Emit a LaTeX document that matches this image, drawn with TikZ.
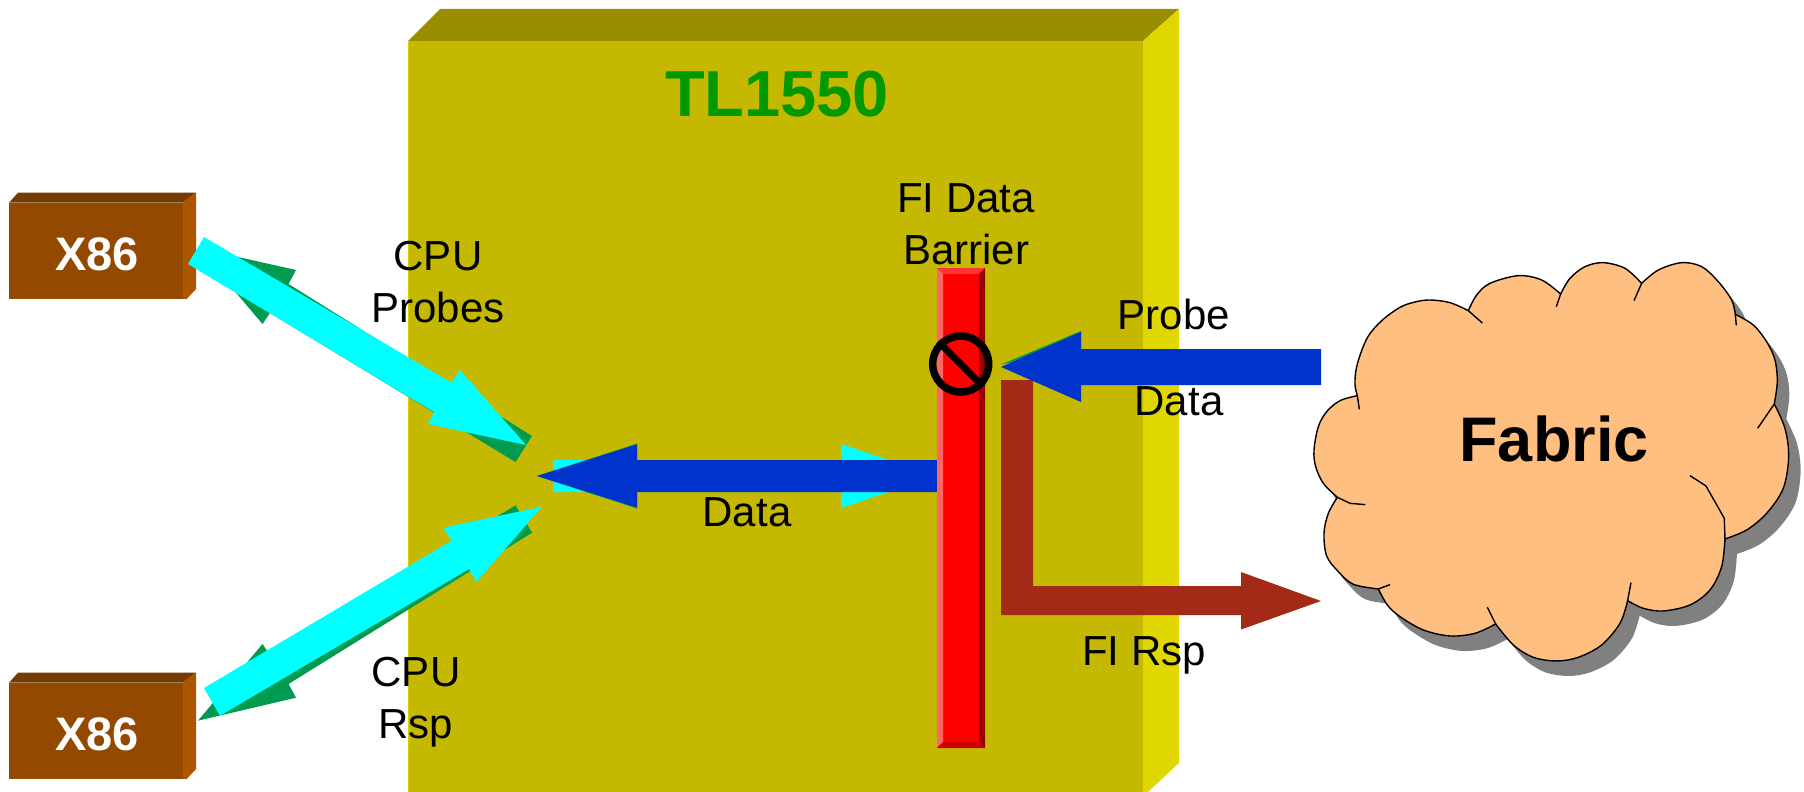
\documentclass[tikz,border=0pt]{standalone}
\usepackage{fontspec}
\setmainfont{Liberation Sans}
\definecolor{olivefront}{HTML}{C4B800}
\definecolor{olivetop}{HTML}{998E00}
\definecolor{oliveside}{HTML}{E0D600}
\definecolor{cpufront}{HTML}{934A00}
\definecolor{cputop}{HTML}{733C00}
\definecolor{cpuside}{HTML}{AD5600}
\definecolor{barleft}{HTML}{FF6666}
\definecolor{bartop}{HTML}{FF3333}
\definecolor{barright}{HTML}{990000}
\definecolor{barbottom}{HTML}{CC0000}
\definecolor{cyanarrow}{HTML}{00FFFF}
\definecolor{greenarrow}{HTML}{009B4E}
\definecolor{bluearrow}{HTML}{0033CC}
\definecolor{brownarrow}{HTML}{A22A16}
\definecolor{cloudfill}{HTML}{FFBF80}
\definecolor{cloudshadow}{HTML}{808080}
\definecolor{titlegreen}{HTML}{009900}
\newcommand{\cloudoutline}{
 plot[smooth,tension=.55] coordinates {(172,437) (165,405) (168,360) (182,310) (205,258) (245,212) (300,172) (345,156) (390,150) (450,158) (505,182)}
 -- plot[smooth,tension=.55] coordinates {(505,182) (530,135) (570,100) (655,77) (725,90) (782,132)}
 -- plot[smooth,tension=.55] coordinates {(782,132) (810,85) (855,50) (910,38) (975,55) (1025,100)}
 -- plot[smooth,tension=.55] coordinates {(1025,100) (1075,60) (1145,38) (1205,50) (1255,95) (1295,150) (1306,193)}
 -- plot[smooth,tension=.55] coordinates {(1306,193) (1360,225) (1400,275) (1425,330) (1432,395) (1423,462)}
 -- plot[smooth,tension=.55] coordinates {(1423,462) (1455,535) (1466,620) (1450,715) (1400,790) (1340,840) (1275,867)}
 -- plot[smooth,tension=.55] coordinates {(1275,867) (1265,950) (1230,1020) (1170,1065) (1090,1083) (1030,1075) (983,1052)}
 -- plot[smooth,tension=.55] coordinates {(983,1052) (960,1120) (905,1185) (835,1222) (770,1233) (700,1222) (640,1185) (587,1122)}
 -- plot[smooth,tension=.55] coordinates {(587,1122) (525,1150) (450,1158) (370,1140) (300,1100) (262,1065) (235,1017)}
 -- plot[smooth,tension=.55] coordinates {(235,1017) (160,1003) (115,965) (80,918) (72,850) (85,790) (112,742)}
 -- plot[smooth,tension=.55] coordinates {(112,742) (70,700) (47,650) (42,600) (55,530) (80,485) (120,452) (172,437)}
 -- cycle}
\tikzset{
  label text/.style={inner sep=0pt,font=\fontsize{42}{52}\selectfont,align=center,text=black},
  cpu text/.style={inner sep=0pt,font=\fontsize{47}{50}\selectfont\bfseries,text=white},
  cloud line/.style={draw=black,line width=1.4pt,line join=round},
}
\begin{document}
\begin{tikzpicture}[x=1pt,y=-1pt]
\useasboundingbox (0,0) rectangle (1804,792);
% TL1550 block
\fill[olivefront] (408,41) rectangle (1143,792);
\fill[oliveside!80!olivefront] (408,41) rectangle (409,792);
\fill[olivetop] (408,41) -- (440,9) -- (1179,9) -- (1143,41) -- cycle;
\fill[oliveside] (1143,41) -- (1179,9) -- (1179,763) -- (1148,792) -- (1143,792) -- cycle;
\node[inner sep=0pt,anchor=base,font=\fontsize{65}{70}\selectfont\bfseries,text=titlegreen] (title) at (777,116.5) {TL1550};
% X86 blocks
\foreach \nm/\yy in {cpua/0,cpub/480}{
 \begin{scope}[yshift=-\yy pt]
  \fill[cpufront] (9,202.7) rectangle (187,298.7);
  \fill[cputop] (9,202.7) -- (18,192.7) -- (196,192.7) -- (183,202.7) -- cycle;
  \fill[cpuside] (183,202.7) -- (196,192.7) -- (196,289) -- (187,298.7) -- (183,298.7) -- cycle;
  \node[cpu text,anchor=base] (\nm) at (97,270.7) {X86};
 \end{scope}
}
% CPU Probes: green then cyan
\fill[greenarrow] (198,248) -- (296,270) -- (288.6,284) -- (532,436) -- (515.5,462) -- (270,313) -- (262.5,324) -- cycle;
\fill[cyanarrow] (204,237) -- (451.6,382.7) -- (460,370) -- (526,445) -- (428,424) -- (434,412) -- (188,264) -- cycle;
% CPU Rsp: green then cyan
\fill[greenarrow] (198,720.7) -- (296,697.7) -- (288.6,684) -- (532,532.7) -- (515.5,505.3) -- (270,655) -- (262.5,644) -- cycle;
\fill[cyanarrow] (204,688) -- (451.6,540.7) -- (443.6,527.7) -- (542,506.7) -- (476.5,582) -- (469,569) -- (220,715.7) -- cycle;
% Data arrow: cyan behind blue
\fill[cyanarrow] (553,460) -- (841,460) -- (841,444) -- (936,476) -- (841,508) -- (841,492) -- (553,492) -- cycle;
\fill[greenarrow] (537,476) -- (637,443.5) -- (637,508.5) -- cycle;
\fill[bluearrow] (537,476) -- (637,444.5) -- (637,460) -- (937,460) -- (937,492) -- (637,492) -- (637,507.5) -- cycle;
% Barrier
\fill[red] (937,268) rectangle (985,748);
\fill[barleft] (937,268) -- (943,274) -- (943,742) -- (937,748) -- cycle;
\fill[bartop] (937,268) -- (985,268) -- (979,274) -- (943,274) -- cycle;
\fill[barright] (985,268) -- (979,274) -- (979,742) -- (985,748) -- cycle;
\fill[barbottom] (937,748) -- (943,742) -- (979,742) -- (985,748) -- cycle;
% Prohibition sign
\node[circle,draw=black,line width=7.5pt,minimum size=56pt,inner sep=0pt] (stop) at (960.7,364) {};
\draw[black,line width=7pt] (stop.135) -- (stop.-45);
% FI Rsp arrow
\fill[brownarrow] (1001,380) -- (1033,380) -- (1033,586) -- (1241,586) -- (1241,572) -- (1321,601) -- (1241,629.5) -- (1241,615) -- (1001,615) -- cycle;
% Probe Data arrow
\fill[greenarrow] (1001,364.5) -- (1081,331) -- (1081,350) -- cycle;
\fill[bluearrow] (1001,367) -- (1081,332) -- (1081,349) -- (1321,349) -- (1321,385) -- (1081,385) -- (1081,402) -- cycle;
% Cloud
\begin{scope}[shift={(1300,250)},x=0.3333pt,y=-0.3333pt]
 \fill[cloudshadow,shift={(36,45)}] \cloudoutline;
 \fill[cloudfill] \cloudoutline;
 \draw[cloud line] \cloudoutline;
 \draw[cloud line] (172,437) -- (178,478);
 \draw[cloud line] (505,182) -- (547,219);
 \draw[cloud line] (782,132) -- (769,170);
 \draw[cloud line] (1025,100) -- (1002,152);
 \draw[cloud line] (1306,193) -- (1309,226);
 \draw[cloud line] (1423,462) -- (1373,535);
 \draw[cloud line] (1275,867) -- (1273,805) -- (1218,708) -- (1170,677);
 \draw[cloud line] (983,1052) -- (993,998);
 \draw[cloud line] (587,1122) -- (562,1072);
 \draw[cloud line] (235,1017) -- (270,1004);
 \draw[cloud line] (112,742) -- (150,760) -- (196,764);
\end{scope}
\node[inner sep=0pt,anchor=base,font=\fontsize{63}{68}\selectfont\bfseries] (fabric) at (1554,461) {Fabric};
% Labels
\node[label text] (cpuprobes) at (438,282) {CPU\\Probes};
\node[label text] (cpursp) at (416,702) {CPU\\Rsp};
\node[label text] (barrier) at (966,224) {FI Data\\Barrier};
\node[label text,anchor=base] (data) at (747,526.7) {Data};
\node[label text,anchor=base] (probe) at (1174,329) {Probe};
\node[label text,anchor=base] (pdata) at (1179,415) {Data};
\node[label text,anchor=base] (firsp) at (1144,665) {FI Rsp};
\end{tikzpicture}
\end{document}
